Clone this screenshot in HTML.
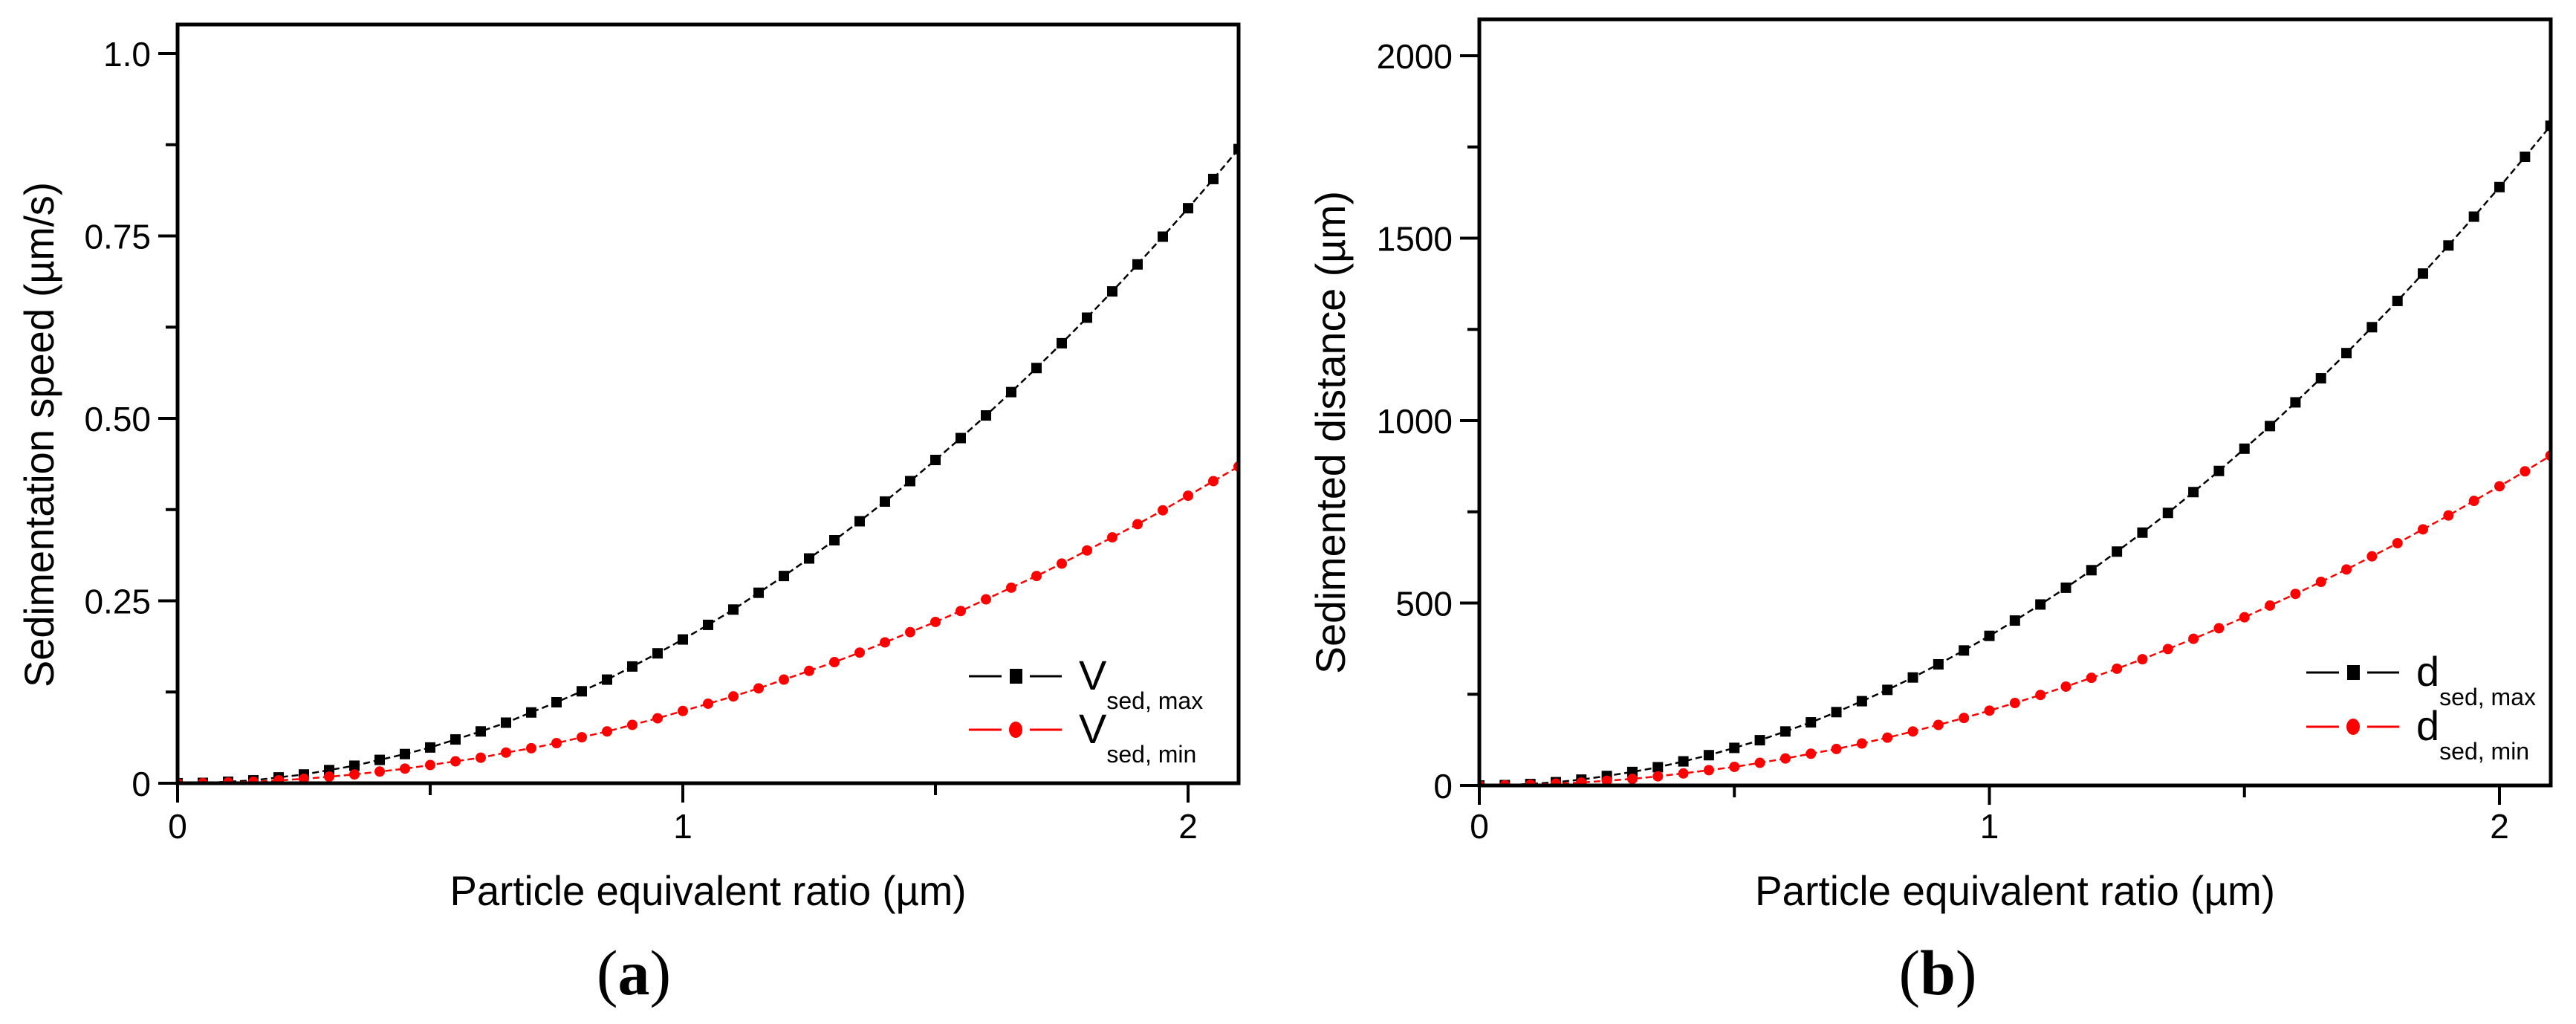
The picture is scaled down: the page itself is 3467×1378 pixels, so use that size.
<!DOCTYPE html>
<html><head><meta charset="utf-8"><style>
html,body{margin:0;padding:0;background:#fff;}
svg{display:block;font-family:"Liberation Sans",Arial,sans-serif;}
</style></head><body>
<svg id="fig" width="3467" height="1378" viewBox="0 0 3467 1378" xmlns="http://www.w3.org/2000/svg">
<rect width="3467" height="1378" fill="#fff"/>
</svg>
<script>
const xVals = [0,0.05,0.1,0.15,0.2,0.25,0.3,0.35,0.4,0.45,0.5,0.55,0.6,0.65,0.7,0.75,0.8,0.85,0.9,0.95,1,1.05,1.1,1.15,1.2,1.25,1.3,1.35,1.4,1.45,1.5,1.55,1.6,1.65,1.7,1.75,1.8,1.85,1.9,1.95,2,2.05,2.1];
const vMax = [0,0.0005,0.002,0.004,0.008,0.012,0.018,0.024,0.032,0.040,0.049,0.060,0.071,0.083,0.097,0.111,0.126,0.142,0.160,0.178,0.197,0.217,0.238,0.261,0.284,0.308,0.333,0.359,0.386,0.414,0.443,0.473,0.504,0.536,0.569,0.603,0.638,0.674,0.711,0.749,0.788,0.828,0.869];
const vMin = [0,0.0002,0.001,0.002,0.004,0.006,0.009,0.012,0.016,0.020,0.025,0.030,0.035,0.042,0.048,0.055,0.063,0.071,0.080,0.089,0.099,0.109,0.119,0.130,0.142,0.154,0.166,0.179,0.193,0.207,0.221,0.236,0.252,0.268,0.284,0.301,0.319,0.337,0.355,0.374,0.394,0.414,0.434];
const dMax = [0,1,4,9,16,26,37,50,66,83,103,124,148,173,201,231,262,296,332,370,410,452,496,542,590,641,693,747,804,862,923,985,1050,1116,1185,1256,1328,1403,1480,1559,1640,1723,1808];
const dMin = [0,0.5,2,5,8,13,18,25,33,42,51,62,74,87,100,115,131,148,166,185,205,226,248,271,295,320,346,374,402,431,461,493,525,558,592,628,664,702,740,780,820,861,904];
const xTicksA = [0,1,2];
const yTicksA = [0,0.25,0.5,0.75,1.0];
const yTickLabelsA = ["0","0.25","0.50","0.75","1.0"];
const yTicksB = [0,500,1000,1500,2000];
const yTickLabelsB = ["0","500","1000","1500","2000"];

const NS="http://www.w3.org/2000/svg";
const svg=document.getElementById('fig');
function mk(tag,attrs,parent){const e=document.createElementNS(NS,tag);for(const k in attrs)e.setAttribute(k,attrs[k]);(parent||svg).appendChild(e);return e;}

function panel(cfg){
  const g=mk('g',{});
  
  
  const L=cfg.L,R=cfg.R,T=cfg.T,B=cfg.B;
  const sx=v=>L+(v-0)*cfg.xUnit;
  const sy=v=>B-v*cfg.yUnit;
  const clip=mk('clipPath',{id:cfg.name+'-clip'},g);
  mk('rect',{x:L,y:T,width:R-L,height:B-T},clip);
  for(let v=0;v<=2.0001;v+=0.5){
    const major=Math.abs(v-Math.round(v))<1e-6;
    const t=mk('line',{x1:sx(v),x2:sx(v),y1:B,y2:B+(major?26:16),stroke:'#000','stroke-width':4},g);
    
    
  }
  xTicksA.forEach(v=>{
    const t=mk('text',{x:sx(v),y:1128,'font-size':46,'text-anchor':'middle'},g);
    t.textContent=String(v);
    
    
  });
  const step=cfg.yTicks[1]-cfg.yTicks[0];
  for(let i=0;i<cfg.yTicks.length*2-1;i++){
    const v=i*step/2;
    const major=i%2===0;
    const t=mk('line',{x1:L,x2:L-(major?26:16),y1:sy(v),y2:sy(v),stroke:'#000','stroke-width':4},g);
    
    
  }
  cfg.yTicks.forEach((v,i)=>{
    const t=mk('text',{x:L-36,y:sy(v)+17,'font-size':46,'text-anchor':'end'},g);
    t.textContent=cfg.yLabels[i];
    
    
  });
  const series=[{d:cfg.s1,c:'#000',m:'sq',n:'series-max'},{d:cfg.s2,c:'#f00',m:'ci',n:'series-min'}];
  series.forEach(s=>{
    const sg=mk('g',{'clip-path':'url(#'+cfg.name+'-clip)'},g);
    
    
    const pts=xVals.map((x,i)=>sx(x).toFixed(1)+','+sy(s.d[i]).toFixed(1)).join(' ');
    const pl=mk('polyline',{points:pts,fill:'none',stroke:s.c,'stroke-width':2.5,'stroke-dasharray':'9,5'},sg);
    
    
    xVals.forEach((x,i)=>{
      let m;
      if(s.m==='sq') m=mk('rect',{x:sx(x)-7,y:sy(s.d[i])-7,width:14,height:14,fill:s.c},sg);
      else m=mk('circle',{cx:sx(x),cy:sy(s.d[i]),r:7,fill:s.c},sg);
      
      
    });
  });
  const fr=mk('rect',{x:L,y:T,width:R-L,height:B-T,fill:'none',stroke:'#000','stroke-width':5},g);
  
  
  const yt=mk('text',{transform:'translate('+cfg.yTitleX+','+cfg.yTitleY+') rotate(-90)','font-size':56,'text-anchor':'middle',textLength:cfg.yTitleLen,lengthAdjust:'spacingAndGlyphs'},g);
  yt.textContent=cfg.yTitle;
  
  
  const xt=mk('text',{x:cfg.xTitleX,y:1218,'font-size':56,'text-anchor':'middle',textLength:cfg.xTitleLen,lengthAdjust:'spacingAndGlyphs'},g);
  xt.textContent='Particle equivalent ratio (\u00b5m)';
  
  
  const pl=mk('text',{x:cfg.xTitleX-cfg.labShift,y:1338,'font-size':86,'text-anchor':'middle','font-family':'Liberation Serif, serif'},g);
  
  
  const t1=mk('tspan',{},pl); t1.textContent='(';
  const t2=mk('tspan',{'font-weight':'bold'},pl); t2.textContent=cfg.panelLetter;
  const t3=mk('tspan',{},pl); t3.textContent=')';
  [[cfg.legY1,'#000','sq','sed, max'],[cfg.legY2,'#f00','ci','sed, min']].forEach(r=>{
    const lg=mk('g',{},g);
    
    
    mk('line',{x1:cfg.legX,x2:cfg.legX+44,y1:r[0],y2:r[0],stroke:r[1],'stroke-width':3},lg);
    mk('line',{x1:cfg.legX+82,x2:cfg.legX+125,y1:r[0],y2:r[0],stroke:r[1],'stroke-width':3},lg);
    if(r[2]==='sq') mk('rect',{x:cfg.legX+55,y:r[0]-10,width:17,height:20,fill:r[1]},lg);
    else mk('ellipse',{cx:cfg.legX+63,cy:r[0],rx:9,ry:11,fill:r[1]},lg);
    const t=mk('text',{x:cfg.legX+148,y:r[0]+18,'font-size':56},lg);
    t.textContent=cfg.legSym;
    const s=mk('tspan',{'font-size':32,dy:26},t);
    s.textContent=r[3];
  });
}

panel({name:'panel-a',L:239,R:1667,T:33,B:1054,xUnit:680,yUnit:982,s1:vMax,s2:vMin,
  yTicks:yTicksA,yLabels:yTickLabelsA,yTitle:'Sedimentation speed (\u00b5m/s)',yTitleX:72,yTitleY:585,yTitleLen:680,
  xTitleX:953,xTitleLen:695,panelLetter:'a',labShift:100,legX:1304,legY1:910,legY2:982,legSym:'V'});
panel({name:'panel-b',L:1991,R:3433,T:26,B:1057,xUnit:686.5,yUnit:0.491,s1:dMax,s2:dMin,
  yTicks:yTicksB,yLabels:yTickLabelsB,yTitle:'Sedimented distance (\u00b5m)',yTitleX:1810,yTitleY:582,yTitleLen:650,
  xTitleX:2712,xTitleLen:700,panelLetter:'b',labShift:104,legX:3104,legY1:905,legY2:978,legSym:'d'});
</script>
</body></html>
